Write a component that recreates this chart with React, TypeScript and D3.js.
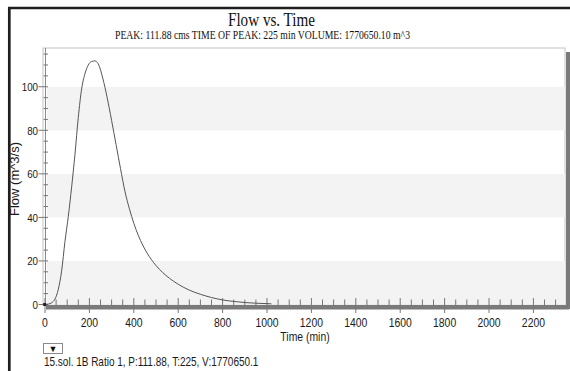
import React from "react";
import * as d3 from "d3";

const timeMin = [0, 15, 30, 45, 60, 75, 90, 105, 120, 135, 150, 165, 180, 195, 210, 225, 240, 260, 280, 300, 320, 340, 360, 380, 400, 420, 440, 460, 480, 500, 530, 560, 600, 650, 700, 750, 800, 850, 900, 950, 1000, 1020];
const flowCms = [0, 0.2, 0.8, 2.5, 7, 15.5, 29, 40.5, 54, 69, 86, 99, 106, 110, 111.6, 111.88, 110.5, 104, 95, 84.5, 73.5, 62.5, 52, 44, 37.3, 31.8, 27.3, 23.6, 20.5, 17.9, 14.7, 12.1, 9.3, 6.6, 4.7, 3.2, 2.1, 1.4, 0.9, 0.6, 0.4, 0.3];
const xTickLabels = [0, 200, 400, 600, 800, 1000, 1200, 1400, 1600, 1800, 2000, 2200];
const yTickLabels = [0, 20, 40, 60, 80, 100];
const titleText = "Flow vs. Time";
const subtitleText = "PEAK: 111.88 cms  TIME OF PEAK: 225 min  VOLUME: 1770650.10 m^3";
const xAxisTitle = "Time (min)";
const yAxisTitle = "Flow (m^3/s)";
const legendText = "15.sol. 1B Ratio 1, P:111.88, T:225, V:1770650.1";

const SANS = "'Liberation Sans', Arial, sans-serif";
const SERIF = "'Liberation Serif', 'Times New Roman', serif";

function SText(props: any) {
  const { x, y, size, anchor = "start", sx = 1, family = SANS, fill = "#1a1a1a", rotate = 0, children } = props;
  return (
    <text
      transform={`translate(${x},${y}) rotate(${rotate}) scale(${sx},1)`}
      fontSize={size}
      textAnchor={anchor}
      fontFamily={family}
      fill={fill}
    >
      {children}
    </text>
  );
}

export default function App() {
  const W = 570, H = 371;
  const x = d3.scaleLinear().domain([0, 2340]).range([45, 564.5]);
  const y = d3.scaleLinear().domain([0, 117.8]).range([304.5, 48]);
  const plotL = 43, plotR = 565, plotT = 48, plotB = 305;

  const line = d3
    .line<number>()
    .x((_, i) => x(timeMin[i]))
    .y((d) => y(d))
    .curve(d3.curveMonotoneX);

  const bands = [0, 40, 80];
  const yMinor = d3.range(0, 116, 5);
  const xMinor = d3.range(0, 2301, 50);

  return (
    <svg width={W} height={H} style={{ position: "absolute", left: 0, top: 0 }} xmlns="http://www.w3.org/2000/svg">
      <rect x={0} y={0} width={W} height={H} fill="#fff" />
      {/* title */}
      <text x={271.5} y={25.5} fontSize={18} fontFamily={SERIF} textAnchor="middle" fill="#111" textLength={87} lengthAdjust="spacingAndGlyphs">
        {titleText}
      </text>
      <text x={262.5} y={38.5} fontSize={11.6} fontFamily={SERIF} textAnchor="middle" fill="#111" textLength={295} lengthAdjust="spacingAndGlyphs">
        {subtitleText}
      </text>

      {/* plot background and bands */}
      <rect x={plotL} y={plotT} width={plotR - plotL} height={plotB - plotT} fill="#fff" stroke="#c4c4c4" strokeWidth={1} />
      {bands.map((b) => (
        <rect key={b} x={47} y={y(b + 20)} width={plotR - 47} height={y(b) - y(b + 20)} fill="#f3f3f3" />
      ))}

      {/* right shadow bar */}
      <rect x={566} y={52} width={4} height={plotB + 4 - 52} fill="#7a7a7a" />

      {/* y axis */}
      <line x1={45.5} x2={45.5} y1={plotT} y2={plotB} stroke="#8a8a8a" strokeWidth={1} />
      {yMinor.map((v) => (
        <line key={v} x1={v % 20 === 0 ? 38.5 : 43.5} x2={48} y1={y(v)} y2={y(v)} stroke="#777" strokeWidth={1} />
      ))}
      {yTickLabels.map((v) => (
        <SText key={v} x={38} y={y(v) + 4.2} size={11.5} anchor="end" sx={0.85}>
          {v}
        </SText>
      ))}

      {/* x axis */}
      <rect x={46} y={305} width={569 - 46} height={4.5} fill="#7a7a7a" />
      {xMinor.map((v) => (
        <line key={v} x1={x(v)} x2={x(v)} y1={v % 200 === 0 ? 298 : 299.5} y2={v % 200 === 0 ? 313 : 305} stroke="#777" strokeWidth={1} />
      ))}
      {xTickLabels.map((v) => (
        <SText key={v} x={x(v)} y={326.5} size={13} anchor="middle" sx={0.8}>
          {v}
        </SText>
      ))}
      <SText x={305} y={341} size={13} anchor="middle" sx={0.8}>
        {xAxisTitle}
      </SText>

      {/* data */}
      <path d={line(flowCms) || ""} fill="none" stroke="#555" strokeWidth={1} />
      <rect x={x(0) - 1.8} y={y(0) - 1.5} width={3} height={3} fill="#222" />

      {/* y axis title */}
      <SText x={18.5} y={179} size={13} anchor="middle" rotate={-90}>
        {yAxisTitle}
      </SText>

      {/* legend */}
      <rect x={43.5} y={343.5} width={19} height={10} fill="#fff" stroke="#8a8a8a" strokeWidth={1} />
      <SText x={53} y={352} size={9} anchor="middle" fill="#111">
        ▼
      </SText>
      <SText x={44} y={366} size={12.5} sx={0.8}>
        {legendText}
      </SText>

      {/* outer frame */}
      <line x1={9.3} x2={9.3} y1={7} y2={H} stroke="#1e1e1e" strokeWidth={2.7} />
      <line x1={8} x2={W} y1={8} y2={8} stroke="#1e1e1e" strokeWidth={2.7} />
    </svg>
  );
}
